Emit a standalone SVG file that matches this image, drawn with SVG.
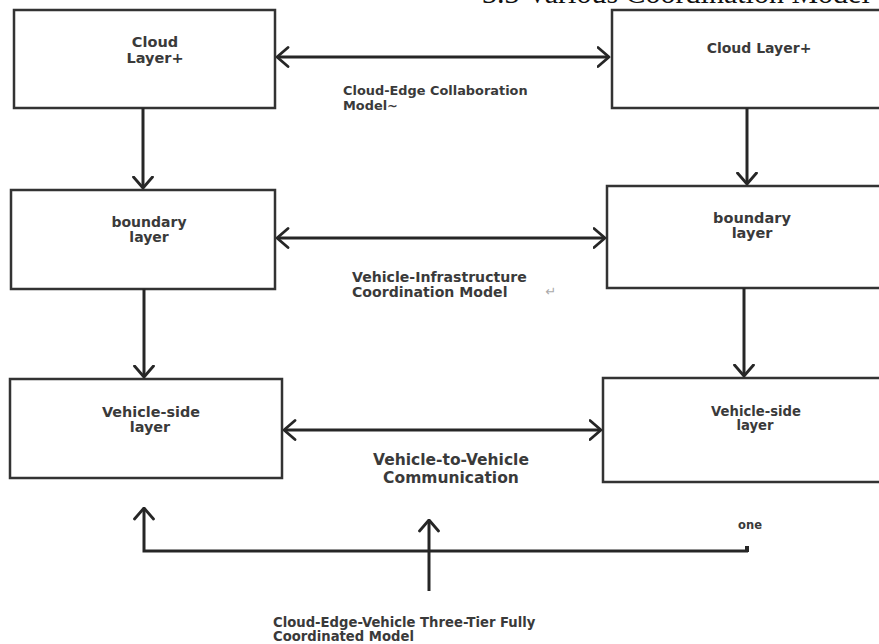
<svg xmlns="http://www.w3.org/2000/svg" width="879" height="644" viewBox="0 0 879 644">
  <style>
    .box { fill: #ffffff; stroke: #333333; stroke-width: 2.5; }
    .conn { fill: none; stroke: #262626; stroke-width: 3; }
    .t { font-family: "DejaVu Sans", Verdana, sans-serif; font-weight: bold; fill: #3a3a3a; }
    .mid { text-anchor: middle; }
    .serif { font-family: "Liberation Serif", "Times New Roman", serif; fill: #111111; }
  </style>
  <defs>
    <marker id="ah" viewBox="0 0 14 22" refX="12.5" refY="11" markerWidth="14" markerHeight="22" markerUnits="userSpaceOnUse" orient="auto-start-reverse">
      <path d="M1.5,1.5 L12.5,11 L1.5,20.5" fill="none" stroke="#262626" stroke-width="2.8" stroke-linecap="round" stroke-linejoin="round"/>
    </marker>
  </defs>
  <rect width="879" height="644" fill="#ffffff"/>

  <text class="serif" x="482" y="3" font-size="30">3.3 Various Coordination Model</text>

  <g id="cloud-left">
    <rect class="box" x="14" y="10" width="261" height="98"/>
    <text class="t mid" x="155" y="47" font-size="14.5">Cloud</text>
    <text class="t mid" x="155" y="63" font-size="14.5">Layer+</text>
  </g>
  <g id="cloud-right">
    <rect class="box" x="612" y="10" width="280" height="98"/>
    <text class="t mid" x="759" y="53" font-size="14">Cloud Layer+</text>
  </g>
  <g id="boundary-left">
    <rect class="box" x="11" y="190" width="264" height="99"/>
    <text class="t mid" x="149" y="227" font-size="14">boundary</text>
    <text class="t mid" x="149" y="242" font-size="14">layer</text>
  </g>
  <g id="boundary-right">
    <rect class="box" x="607" y="186" width="285" height="102"/>
    <text class="t mid" x="752" y="223" font-size="14.5">boundary</text>
    <text class="t mid" x="752" y="238" font-size="14.5">layer</text>
  </g>
  <g id="vehicle-left">
    <rect class="box" x="10" y="379" width="272" height="99"/>
    <text class="t mid" x="151" y="417" font-size="14.4">Vehicle-side</text>
    <text class="t mid" x="150" y="432" font-size="14.4">layer</text>
  </g>
  <g id="vehicle-right">
    <rect class="box" x="603" y="378" width="289" height="104"/>
    <text class="t mid" x="756" y="416" font-size="13.2">Vehicle-side</text>
    <text class="t mid" x="755" y="430" font-size="13.2">layer</text>
  </g>

  <g id="connectors">
    <path class="conn" d="M277,57 H609" marker-start="url(#ah)" marker-end="url(#ah)"/>
    <path class="conn" d="M277,238 H605" marker-start="url(#ah)" marker-end="url(#ah)"/>
    <path class="conn" d="M284,430 H601" marker-start="url(#ah)" marker-end="url(#ah)"/>
    <path class="conn" d="M143,108 V188" marker-end="url(#ah)"/>
    <path class="conn" d="M144,289 V377" marker-end="url(#ah)"/>
    <path class="conn" d="M747,108 V184" marker-end="url(#ah)"/>
    <path class="conn" d="M744,288 V376" marker-end="url(#ah)"/>
    <path class="conn" d="M748,551 H144 V508" marker-end="url(#ah)"/>
    <rect x="745" y="546" width="4" height="6" fill="#262626"/>
    <path class="conn" d="M429,591 V520" marker-end="url(#ah)"/>
  </g>

  <g id="labels">
    <text class="t" x="343" y="95" font-size="12.9">Cloud-Edge Collaboration</text>
    <text class="t" x="343" y="110" font-size="12.9">Model~</text>
    <text class="t" x="352" y="282" font-size="14.1">Vehicle-Infrastructure</text>
    <text class="t" x="352" y="297" font-size="14.1">Coordination Model</text>
    <text x="551" y="296" font-family="DejaVu Sans, sans-serif" font-size="13" fill="#aaaaaa" text-anchor="middle">↵</text>
    <text class="t mid" x="451" y="465" font-size="15.5">Vehicle-to-Vehicle</text>
    <text class="t mid" x="451" y="483" font-size="15.5">Communication</text>
    <text class="t mid" x="750" y="529" font-size="11.5">one</text>
    <text class="t" x="273" y="627" font-size="13.2">Cloud-Edge-Vehicle Three-Tier Fully</text>
    <text class="t" x="273" y="641" font-size="13.2">Coordinated Model</text>
  </g>
</svg>
